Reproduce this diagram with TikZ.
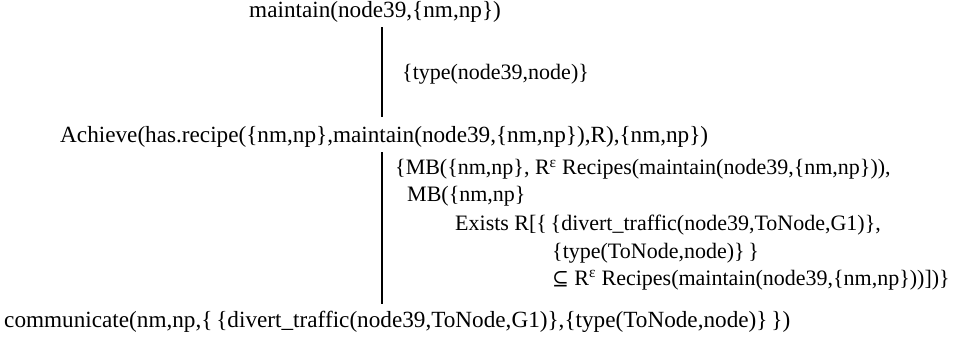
\documentclass[tikz,border=0pt]{standalone}
\usepackage{fontspec}
\setmainfont{Liberation Serif}
\newfontfamily\symfont{DejaVu Serif}
\newcommand{\Rin}{R\textsuperscript{ε}}
\begin{document}
\begin{tikzpicture}[x=1pt,y=1pt,
  goal/.style={anchor=base west,inner sep=0pt,font=\fontsize{23.2}{28}\selectfont},
  cond/.style={anchor=base west,inner sep=0pt,font=\fontsize{22}{27}\selectfont},
  link/.style={line width=2.2pt}]
\useasboundingbox (0,0) rectangle (966,-339);
\coordinate (spine) at (382,0);
\node[goal](maint) at (249,-18){maintain(node39,\{nm,np\})};
\node[cond](typecond) at (402,-80){\{type(node39,node)\}};
\node[goal](achieve) at (60,-143){Achieve(has.recipe(\{nm,np\},maintain(node39,\{nm,np\}),R),\{nm,np\})};
\node[cond](mb1) at (395,-175){\{MB(\{nm,np\}, \Rin{} Recipes(maintain(node39,\{nm,np\})),};
\node[cond](mb2) at (407,-202){MB(\{nm,np\}};
\node[cond](mb3) at (455,-230){Exists R[\{\,\{divert\_traffic(node39,ToNode,G1)\},};
\node[cond](mb4) at (552,-258){\{type(ToNode,node)\}\,\}};
\node[cond](mb5) at (552,-285){{\symfont\fontsize{20}{24}\selectfont ⊆} \Rin{} Recipes(maintain(node39,\{nm,np\}))])\}};
\node[goal](comm) at (4,-327){communicate(nm,np,\{\,\{divert\_traffic(node39,ToNode,G1)\},\{type(ToNode,node)\}\,\})};
\draw[link] ([yshift=-4pt]maint.south -| spine) -- ([yshift=10pt]achieve.north -| spine);
\draw[link] ([yshift=-4pt]achieve.south -| spine) -- ([yshift=6pt]comm.north -| spine);
\end{tikzpicture}
\end{document}
